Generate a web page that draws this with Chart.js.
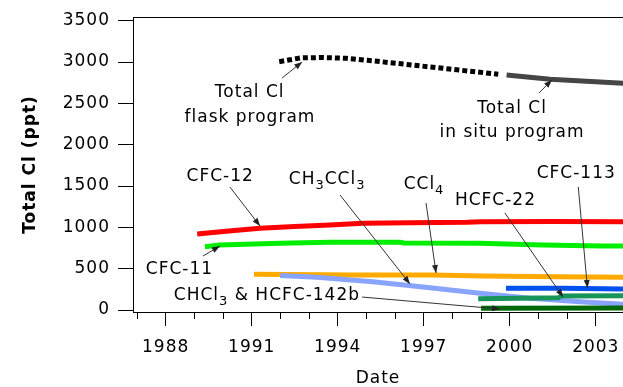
<!DOCTYPE html>
<html>
<head>
<meta charset="utf-8">
<script src="https://cdn.jsdelivr.net/npm/chart.js@4.4.1/dist/chart.umd.min.js"></script>
<style>
  html, body { margin: 0; padding: 0; background: #fff; }
  #chart { display: block; }
</style>
</head>
<body>
<canvas id="chart" width="623" height="387" style="width:623px;height:387px"></canvas>
<script>
// decimal years and Cl mixing ratios (ppt)
const flaskYears  = [1991.96, 1992.7, 1993.5, 1994.3, 1995.3, 1996.3, 1997.9, 1999.6];
const flaskCl     = [3004, 3050, 3055, 3045, 3012, 2975, 2916, 2852];
const insituYears = [1999.89, 2001.41, 2002.2, 2003.96];
const insituCl    = [2843, 2791, 2778, 2743];

const cfc12Years  = [1989.1, 1990.2, 1991.29, 1992.5, 1993.73, 1994.88, 1996.5, 1998.51, 1999.0, 2001.5, 2003.96];
const cfc12Cl     = [920, 955, 988, 1010, 1028, 1049, 1055, 1061, 1069, 1072, 1069];
const cfc11Years  = [1989.37, 1989.89, 1991.99, 1993.73, 1996.17, 1996.3, 1998.96, 2001.16, 2003.25, 2003.96];
const cfc11Cl     = [766, 786, 807, 819, 819, 810, 807, 786, 774, 774];
const ccl4Years   = [1991.08, 1994.53, 1997.32, 1999.07, 2001.65, 2003.95];
const ccl4Cl      = [432, 423, 423, 411, 403, 396];
const mcfYears    = [1991.99, 1993.27, 1995.23, 1997.22, 1998.96, 2000.71, 2002.45, 2003.95];
const mcfCl       = [418, 396, 342, 270, 202, 141, 100, 69];
const cfc113Years = [1999.87, 2001.86, 2003.95];
const cfc113Cl    = [263, 263, 254];
const hcfc22Years = [1998.9, 2001.7, 2001.8, 2003.95];
const hcfc22Cl    = [135, 148, 170, 173];
const minorYears  = [1999.0, 2003.95];
const minorCl     = [22, 24];

const xTickYears = [1987, 1988, 1989, 1990, 1991, 1992, 1993, 1994, 1995, 1996, 1997, 1998, 1999, 2000, 2001, 2002, 2003];
const xLabelYears = [1988, 1991, 1994, 1997, 2000, 2003];
const yTickValues = [0, 500, 1000, 1500, 2000, 2500, 3000, 3500];

const pts = (xs, ys) => xs.map((x, i) => ({ x: x, y: ys[i] }));

function series(label, xs, ys, color, extra) {
  return Object.assign({
    label: label,
    data: pts(xs, ys),
    borderColor: color,
    borderWidth: 5,
    pointRadius: 0,
    tension: 0,
    fill: false,
    borderCapStyle: 'butt'
  }, extra || {});
}

// text labels and pointer arrows, in data units
const notes = [
  { parts: [['Total Cl', 0]], x: 1990.93, y: 2630 },
  { parts: [['flask program', 0]], x: 1990.94, y: 2330 },
  { parts: [['Total Cl', 0]], x: 2000.08, y: 2440 },
  { parts: [['in situ program', 0]], x: 2000.08, y: 2150 },
  { parts: [['CFC-12', 0]], x: 1989.9, y: 1615 },
  { parts: [['CFC-11', 0]], x: 1988.48, y: 490 },
  { parts: [['CH', 0], ['3', 1], ['CCl', 0], ['3', 1]], x: 1993.63, y: 1575 },
  { parts: [['CCl', 0], ['4', 1]], x: 1997.01, y: 1515 },
  { parts: [['HCFC-22', 0]], x: 1999.5, y: 1318 },
  { parts: [['CFC-113', 0]], x: 2002.32, y: 1652 },
  { parts: [['CHCl', 0], ['3', 1], [' & HCFC-142b', 0]], x: 1991.53, y: 176 }
];
const pointers = [
  [1992.06, 2807, 1992.76, 3001],
  [2001.02, 2626, 2001.47, 2783],
  [1990.24, 1488, 1991.29, 1016],
  [1989.30, 653, 1989.89, 774],
  [1994.08, 1392, 1996.52, 315],
  [1997.08, 1295, 1997.43, 448],
  [1999.83, 1174, 2001.86, 157],
  [2002.39, 1488, 2002.71, 266],
  [1994.85, 157, 1999.66, 12]
];

const FONT = '"DejaVu Sans", Verdana, sans-serif';

function drawParts(ctx, parts, cx, cy) {
  const main = '17px ' + FONT, sub = '13px ' + FONT;
  let w = 0;
  parts.forEach(p => { ctx.font = p[1] ? sub : main; w += ctx.measureText(p[0]).width; });
  let x = cx - w / 2;
  parts.forEach(p => {
    ctx.font = p[1] ? sub : main;
    ctx.fillText(p[0], x, p[1] ? cy + 6 : cy);
    x += ctx.measureText(p[0]).width;
  });
}

function drawArrow(ctx, x1, y1, x2, y2) {
  ctx.beginPath();
  ctx.moveTo(x1, y1);
  ctx.lineTo(x2, y2);
  ctx.stroke();
  const a = Math.atan2(y2 - y1, x2 - x1), len = 8, w = 3;
  ctx.beginPath();
  ctx.moveTo(x2, y2);
  ctx.lineTo(x2 - len * Math.cos(a) + w * Math.sin(a), y2 - len * Math.sin(a) - w * Math.cos(a));
  ctx.lineTo(x2 - len * Math.cos(a) - w * Math.sin(a), y2 - len * Math.sin(a) + w * Math.cos(a));
  ctx.closePath();
  ctx.fill();
}

const spacing = {
  id: 'spacing',
  beforeDraw(chart) { chart.ctx.letterSpacing = '1px'; }
};

const labels = {
  id: 'labels',
  afterDatasetsDraw(chart) {
    const { ctx, scales: { x, y } } = chart;
    ctx.save();
    ctx.fillStyle = '#000';
    ctx.strokeStyle = '#333';
    ctx.lineWidth = 1;
    ctx.textBaseline = 'middle';
    ctx.textAlign = 'left';
    notes.forEach(n => drawParts(ctx, n.parts, x.getPixelForValue(n.x), y.getPixelForValue(n.y)));
    ctx.fillStyle = '#222';
    pointers.forEach(p => drawArrow(ctx,
      x.getPixelForValue(p[0]), y.getPixelForValue(p[1]),
      x.getPixelForValue(p[2]), y.getPixelForValue(p[3])));
    ctx.restore();
  }
};

new Chart(document.getElementById('chart'), {
  type: 'line',
  data: {
    datasets: [
      series('Total Cl flask', flaskYears, flaskCl, '#000', { borderDash: [5, 3] }),
      series('Total Cl in situ', insituYears, insituCl, '#454545'),
      series('CFC-12', cfc12Years, cfc12Cl, '#ff0000'),
      series('CFC-11', cfc11Years, cfc11Cl, '#00ee00'),
      series('HCFC-22', hcfc22Years, hcfc22Cl, '#17955a'),
      series('CHCl3 & HCFC-142b', minorYears, minorCl, '#006a0a'),
      series('CH3CCl3', mcfYears, mcfCl, '#88a4ff'),
      series('CFC-113', cfc113Years, cfc113Cl, '#0052ee'),
      series('CCl4', ccl4Years, ccl4Cl, '#ffaa00')
    ]
  },
  options: {
    responsive: false,
    animation: false,
    events: [],
    layout: { padding: { top: 17, right: 0, bottom: 0, left: 0 } },
    plugins: { legend: { display: false }, tooltip: { enabled: false } },
    scales: {
      x: {
        type: 'linear',
        position: 'bottom',
        min: 1986.86,
        max: 2003.95,
        border: { display: true, color: '#000', width: 1 },
        grid: {
          drawOnChartArea: false,
          tickLength: 14,
          tickColor: '#000',
          // short marks on unlabelled years
          tickBorderDash: c => (c.tick && xLabelYears.includes(c.tick.value)) ? [] : [6, 40]
        },
        ticks: {
          autoSkip: false,
          maxRotation: 0,
          padding: 11,
          color: '#000',
          font: { family: FONT, size: 17 },
          callback: v => (xLabelYears.includes(v) ? String(v) : '')
        },
        afterBuildTicks(s) { s.ticks = xTickYears.map(v => ({ value: v })); },
        title: {
          display: true,
          text: 'Date',
          color: '#000',
          font: { family: FONT, size: 17, lineHeight: 1 },
          padding: { top: 0, bottom: 0 }
        },
        afterFit(s) { s.height = 75; s.paddingLeft = 0; s.paddingRight = 0; }
      },
      xTop: {
        type: 'linear',
        position: 'top',
        min: 1986.86,
        max: 2003.95,
        border: { display: true, color: '#000', width: 1 },
        grid: { drawOnChartArea: false, drawTicks: false },
        ticks: { display: false },
        afterFit(s) { s.height = 0; s.paddingLeft = 0; s.paddingRight = 0; }
      },
      y: {
        type: 'linear',
        position: 'left',
        min: -24,
        max: 3545,
        border: { display: true, color: '#000', width: 1 },
        grid: { drawOnChartArea: false, tickLength: 15, tickColor: '#000' },
        ticks: {
          padding: 8,
          color: '#000',
          font: { family: FONT, size: 17 },
          callback: v => String(v)
        },
        afterBuildTicks(s) { s.ticks = yTickValues.map(v => ({ value: v })); },
        title: {
          display: true,
          text: 'Total Cl (ppt)',
          color: '#000',
          font: { family: FONT, size: 17, weight: 'bold', lineHeight: 1 },
          padding: { top: 22, bottom: 0 }
        },
        afterFit(s) { s.width = 133; s.paddingTop = 0; s.paddingBottom = 0; }
      }
    }
  },
  plugins: [spacing, labels]
});
</script>
</body>
</html>
